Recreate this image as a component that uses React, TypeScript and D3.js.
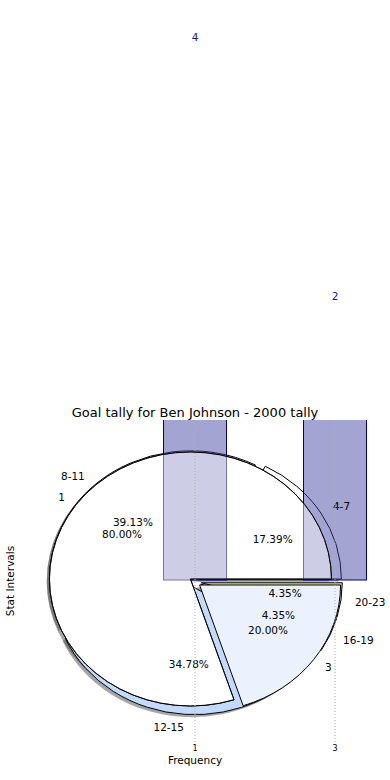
import React from "react";
import * as d3 from "d3";

const pieALabels = ["4-7", "8-11", "12-15", "16-19", "20-23"];
const pieAValues = [4, 9, 8, 1, 1];
const pieAColors = ["#ffffff", "#ffffff", "#c4dafa", "#e4ecfb", "#dae6a0"];

const pieBLabels = ["1", "3"];
const pieBValues = [4, 1];
const pieBColors = ["#ffffff", "#ebf1fd"];

const barCategories = [1, 3];
const barValues = [4, 2];
const xTicks = [1, 3];

const W = 390;
const H = 780;
const plotTop = 420;
const plotBottom = 742;
const cx = 195;
const cy = 582;
const rx = 141;
const ry = 127;
const font = "DejaVu Sans, sans-serif";

type Slice = d3.PieArcDatum<number>;

const pie = d3
  .pie<number>()
  .sort(null)
  .startAngle(Math.PI / 2)
  .endAngle(Math.PI / 2 - 2 * Math.PI);

const arc = d3.arc<Slice>().innerRadius(0).outerRadius(1);

const mid = (d: Slice) => (d.startAngle + d.endAngle) / 2;
const shift = (d: Slice, e: number) => {
  const a = mid(d);
  return [Math.sin(a) * e * rx, -Math.cos(a) * e * ry];
};

const Wedge = ({ d, e, fill, dx = 0, dy = 0, opacity = 1, stroke = "#000" }: any) => {
  const [sx, sy] = shift(d, e);
  return (
    <path
      d={arc(d) as string}
      transform={`translate(${cx + sx + dx},${cy + sy + dy}) scale(${rx},${ry})`}
      fill={fill}
      fillOpacity={opacity}
      stroke={stroke}
      strokeWidth={1}
      vectorEffect="non-scaling-stroke"
    />
  );
};

const Labels = ({ slices, labels, total, e }: { slices: Slice[]; labels: string[]; total: number; e: number }) => (
  <g fontFamily={font} fontSize={10.5} fill="#000">
    {slices.map((d, i) => {
      const a = mid(d);
      const [sx, sy] = shift(d, e);
      const ux = Math.sin(a);
      const uy = -Math.cos(a);
      return (
        <g key={i}>
          <text
            x={cx + sx + 1.1 * rx * ux}
            y={cy + sy + 1.1 * ry * uy}
            textAnchor={ux > 0 ? "start" : "end"}
            dominantBaseline="central"
          >
            {labels[i]}
          </text>
          <text
            x={cx + sx + 0.6 * rx * ux}
            y={cy + sy + 0.6 * ry * uy}
            textAnchor="middle"
            dominantBaseline="central"
          >
            {((d.value / total) * 100).toFixed(2)}%
          </text>
        </g>
      );
    })}
  </g>
);

export default function App() {
  const x = d3.scaleLinear().domain([1, 3]).range([195, 335]);
  const y = d3.scaleLinear().domain([0, 4]).range([580, 62]);
  const barW = x(1.9) - x(1);

  const slicesA = pie(pieAValues);
  const slicesB = pie(pieBValues);
  const totalA = d3.sum(pieAValues);
  const totalB = d3.sum(pieBValues);
  const eA = 0.045;
  const eB = 0.04;
  const shadow = { dx: -2.8, dy: 2.5 };

  return (
    <svg width={W} height={H} style={{ position: "absolute", left: 0, top: 0, background: "#fff" }}>
      <defs>
        <clipPath id="plot">
          <rect x={0} y={plotTop} width={W} height={plotBottom - plotTop} />
        </clipPath>
      </defs>

      {/* shadows of both pies */}
      {slicesB.map((d, i) => (
        <Wedge key={"sb" + i} d={d} e={eB} fill="#4d4d4d" opacity={0.5} stroke="none" {...shadow} />
      ))}
      {slicesA.map((d, i) => (
        <Wedge key={"sa" + i} d={d} e={eA} fill="#4d4d4d" opacity={0.5} stroke="none" {...shadow} />
      ))}

      {/* first pie, underneath */}
      {slicesA.map((d, i) => (
        <Wedge key={"a" + i} d={d} e={eA} fill={pieAColors[i]} />
      ))}

      {/* second pie */}
      {slicesB.map((d, i) => (
        <Wedge key={"b" + i} d={d} e={eB} fill={pieBColors[i]} />
      ))}

      {/* bars */}
      <g clipPath="url(#plot)">
        {barCategories.map((c, i) => (
          <rect
            key={c}
            x={x(c) - barW / 2}
            y={y(barValues[i])}
            width={barW}
            height={y(0) - y(barValues[i])}
            fill="#4040a0"
            fillOpacity={0.48}
            stroke="#000080"
            strokeWidth={1}
          />
        ))}
      </g>
      {barCategories.map((c, i) => (
        <text
          key={"bl" + c}
          x={x(c)}
          y={y(barValues[i]) - 21}
          textAnchor="middle"
          fontFamily={font}
          fontSize={10.5}
          fill="#1a1a90"
        >
          {barValues[i]}
        </text>
      ))}

      {/* translucent top of the big slice over the bars */}
      <Wedge d={slicesB[0]} e={eB} fill="#ffffff" opacity={0.45} />

      <Labels slices={slicesA} labels={pieALabels} total={totalA} e={eA} />
      <Labels slices={slicesB} labels={pieBLabels} total={totalB} e={eB} />

      {/* grid */}
      {xTicks.map((t) => (
        <g key={"t" + t}>
          <line
            x1={x(t)}
            x2={x(t)}
            y1={plotTop}
            y2={plotBottom}
            stroke="#b0b0b0"
            strokeDasharray="1,2"
            strokeWidth={1}
          />
          <text x={x(t)} y={751} textAnchor="middle" fontFamily={font} fontSize={8} fill="#000">
            {t}
          </text>
        </g>
      ))}

      <text x={195} y={417} textAnchor="middle" fontFamily={font} fontSize={13} fill="#000">
        Goal tally for Ben Johnson - 2000 tally
      </text>
      <text x={195} y={764} textAnchor="middle" fontFamily={font} fontSize={10.5} fill="#000">
        Frequency
      </text>
      <text
        transform="translate(14,581) rotate(-90)"
        textAnchor="middle"
        fontFamily={font}
        fontSize={10.5}
        fill="#000"
      >
        Stat Intervals
      </text>
    </svg>
  );
}
